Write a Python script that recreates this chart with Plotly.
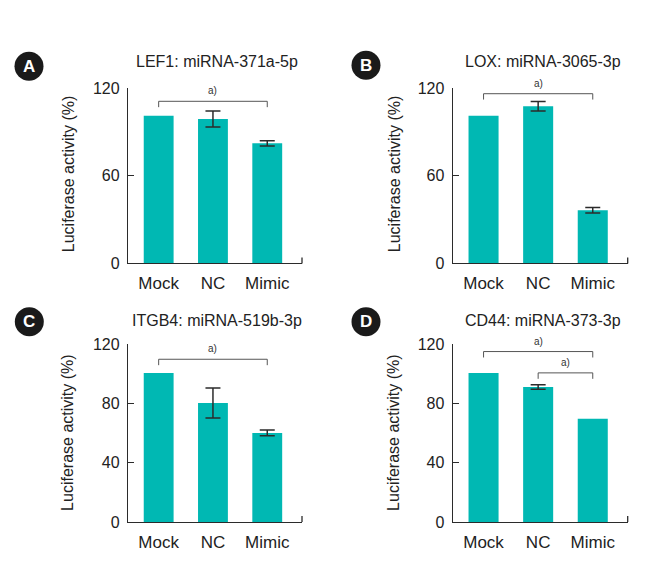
import plotly.graph_objects as go

# ---------------- data ----------------
categories = ["Mock", "NC", "Mimic"]
panel_letters = ["A", "B", "C", "D"]
panel_titles = ["LEF1: miRNA-371a-5p", "LOX: miRNA-3065-3p",
                "ITGB4: miRNA-519b-3p", "CD44: miRNA-373-3p"]
values_A = [101.0, 98.8, 82.2]
errors_A = [None, 5.5, 1.8]
values_B = [101.0, 107.5, 36.4]
errors_B = [None, 3.3, 1.9]
values_C = [100.7, 80.4, 60.2]
errors_C = [None, 10.1, 1.9]
values_D = [100.7, 91.2, 69.7]
errors_D = [None, 1.5, None]
ytick_A = [0, 60, 120]
ytick_B = [0, 60, 120]
ytick_C = [0, 40, 80, 120]
ytick_D = [0, 40, 80, 120]
# significance comparisons: (from index, to index, bracket level, label)
sig_A = [(0, 2, 110.9, "a)")]
sig_B = [(0, 2, 116.1, "a)")]
sig_C = [(0, 2, 109.9, "a)")]
sig_D = [(0, 2, 115.1, "a)"), (1, 2, 100.7, "a)")]

values = [values_A, values_B, values_C, values_D]
errors = [errors_A, errors_B, errors_C, errors_D]
yticks = [ytick_A, ytick_B, ytick_C, ytick_D]
sigs = [sig_A, sig_B, sig_C, sig_D]

# ---------------- layout geometry (pixels) ----------------
W, H = 672, 563
BAR = "#00B8B3"
INK = "#2b2b2b"
FONT = "Liberation Sans, Arial, sans-serif"

# plot areas: (x_left, x_right, y_top(120), y_bottom(0)) in target pixels
areas = [(128, 302, 87.7, 263.3), (452.7, 627.7, 87.7, 263.3),
         (128, 302, 344.3, 522.3), (452.7, 627.7, 344.3, 522.3)]
circles = [(29, 66), (366, 65), (29.3, 321.7), (366, 321.7)]
title_pos = [(217, 61.5), (543, 61), (217, 320), (542.7, 320)]
ytitle_pos = [(68, 174), (394, 174), (68, 433), (394, 433)]

def px(x):
    return (x - 8) / W

def py(y):
    return 1 - ((y - 15.6) / 0.971) / H

fig = go.Figure()
shapes = []
annotations = []
XR = [-0.565, 2.64]

for i in range(4):
    ax = "" if i == 0 else str(i + 1)
    xl, xr, yt, yb = areas[i]
    fig.add_trace(go.Bar(
        x=categories, y=values[i],
        xaxis="x" + ax, yaxis="y" + ax,
        width=0.55, marker=dict(color=BAR, line=dict(width=0)),
        showlegend=False, hoverinfo="skip",
    ))
    idx = [k for k, e in enumerate(errors[i]) if e is not None]
    fig.add_trace(go.Scatter(
        x=[categories[k] for k in idx], y=[values[i][k] for k in idx],
        xaxis="x" + ax, yaxis="y" + ax, mode="markers",
        marker=dict(size=1, opacity=0),
        error_y=dict(type="data", array=[errors[i][k] for k in idx], visible=True,
                     color=INK, thickness=1.5, width=7.5),
        showlegend=False, hoverinfo="skip", cliponaxis=False,
    ))
    fig.update_layout(**{
        "xaxis" + ax: dict(domain=[px(xl), px(xr)], range=XR, anchor="y" + ax,
                           showline=True, linecolor=INK, linewidth=1.3,
                           ticks="", showgrid=False, zeroline=False,
                           tickfont=dict(family=FONT, size=17, color="#222"),
                           ticklabelstandoff=4, fixedrange=True),
        "yaxis" + ax: dict(domain=[py(yb), py(yt)], range=[0, 120], anchor="x" + ax,
                           showline=True, linecolor=INK, linewidth=1.3,
                           ticks="inside", ticklen=6, tickcolor=INK, tickwidth=1.3,
                           tickvals=yticks[i], showgrid=False, zeroline=False,
                           tickfont=dict(family=FONT, size=16, color="#222"),
                           ticklabelstandoff=4, fixedrange=True),
    })
    # end cap of x axis
    shapes.append(dict(type="line", xref="paper", yref="paper",
                       x0=px(xr), x1=px(xr), y0=py(yb), y1=py(yb - 6),
                       line=dict(color=INK, width=1.3)))
    # significance brackets
    for (a, b, lvl, lab) in sigs[i]:
        drop = 4.0
        xs = "x" + ax
        ys = "y" + ax
        shapes.append(dict(type="path", xref=xs, yref=ys,
                           path=f"M {a},{lvl - drop} L {a},{lvl} L {b},{lvl} L {b},{lvl - drop}",
                           line=dict(color="#555", width=1)))
        annotations.append(dict(x=(a + b) / 2, y=lvl + 2, xref=xs, yref=ys,
                                text=lab, showarrow=False, yanchor="bottom",
                                font=dict(family=FONT, size=10, color="#333")))
    # letter circle
    cx, cy = circles[i]
    r = 14.5
    shapes.append(dict(type="circle", xref="paper", yref="paper",
                       x0=px(cx - r), x1=px(cx + r), y0=py(cy + r), y1=py(cy - r),
                       fillcolor="#1a1a1a", line=dict(width=0)))
    annotations.append(dict(x=px(cx), y=py(cy), xref="paper", yref="paper",
                            text="<b>" + panel_letters[i] + "</b>", showarrow=False,
                            xanchor="center", yanchor="middle",
                            font=dict(family=FONT, size=17, color="white")))
    # panel title
    tx, ty = title_pos[i]
    annotations.append(dict(x=px(tx), y=py(ty), xref="paper", yref="paper",
                            text=panel_titles[i], showarrow=False,
                            xanchor="center", yanchor="middle",
                            font=dict(family=FONT, size=16, color="#222")))
    # y axis title
    yx, yy = ytitle_pos[i]
    annotations.append(dict(x=px(yx), y=py(yy), xref="paper", yref="paper",
                            text="Luciferase activity (%)", showarrow=False,
                            textangle=-90, xanchor="center", yanchor="middle",
                            font=dict(family=FONT, size=16, color="#222")))

fig.update_layout(width=W, height=H, margin=dict(l=0, r=0, t=0, b=0),
                  paper_bgcolor="white", plot_bgcolor="white",
                  shapes=shapes, annotations=annotations, bargap=0.3)

fig.write_html("out.html")
